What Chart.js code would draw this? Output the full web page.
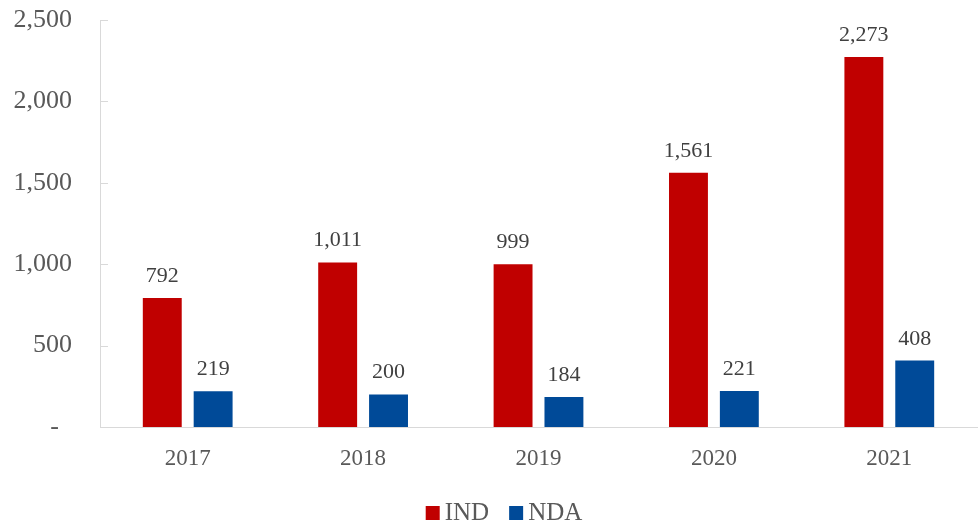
<!DOCTYPE html>
<html>
<head>
<meta charset="utf-8">
<script src="https://cdn.jsdelivr.net/npm/chart.js@4/dist/chart.umd.min.js"></script>
<style>
  html, body { margin: 0; padding: 0; background: #ffffff; }
  #wrap { width: 979px; height: 527px; }
</style>
</head>
<body>
<div id="wrap"><canvas id="c" width="979" height="527"></canvas></div>
<script>
const categories = ['2017', '2018', '2019', '2020', '2021'];
const indValues = [792, 1011, 999, 1561, 2273];
const ndaValues = [219, 200, 184, 221, 408];
const seriesNames = ['IND', 'NDA'];
const yTicks = [0, 500, 1000, 1500, 2000, 2500];

const FONT = "'Liberation Serif', 'Times New Roman', serif";
const AXIS_COLOR = '#D9D9D9';
Chart.defaults.font.family = FONT;

const fmt = v => v === 0 ? '-  ' : v.toLocaleString('en-US');

const innerTicks = {
  id: 'innerTicks',
  afterDraw(chart) {
    const y = chart.scales.y;
    const ctx = chart.ctx;
    const left = chart.chartArea.left;
    ctx.save();
    ctx.strokeStyle = AXIS_COLOR;
    ctx.lineWidth = 1;
    y.ticks.forEach((t, i) => {
      const py = Math.round(y.getPixelForTick(i)) + 0.5;
      ctx.beginPath();
      ctx.moveTo(left, py);
      ctx.lineTo(left + 8, py);
      ctx.stroke();
    });
    ctx.restore();
  }
};

const dataLabels = {
  id: 'dataLabels',
  afterDatasetsDraw(chart) {
    const ctx = chart.ctx;
    ctx.save();
    ctx.font = '22px ' + FONT;
    ctx.fillStyle = '#404040';
    ctx.textAlign = 'center';
    ctx.textBaseline = 'alphabetic';
    chart.data.datasets.forEach((ds, di) => {
      const meta = chart.getDatasetMeta(di);
      meta.data.forEach((bar, i) => {
        ctx.fillText(fmt(ds.data[i]), bar.x, bar.y - 16);
      });
    });
    ctx.restore();
  }
};

const customLegend = {
  id: 'customLegend',
  afterDraw(chart) {
    const ctx = chart.ctx;
    ctx.save();
    ctx.font = '25px ' + FONT;
    ctx.textBaseline = 'alphabetic';
    ctx.textAlign = 'left';
    const box = 14, gapText = 5, gapItem = 20;
    const items = chart.data.datasets.map(ds => ({ label: ds.label, color: ds.backgroundColor, w: ctx.measureText(ds.label).width }));
    let total = 0;
    items.forEach((it, i) => { total += box + gapText + it.w + (i < items.length - 1 ? gapItem : 0); });
    let x = 504 - total / 2;
    const baseline = 520;
    items.forEach(it => {
      ctx.fillStyle = it.color;
      ctx.fillRect(x, baseline - box, box, box);
      x += box + gapText;
      ctx.fillStyle = '#595959';
      ctx.fillText(it.label, x, baseline);
      x += it.w + gapItem;
    });
    ctx.restore();
  }
};

const chart = new Chart(document.getElementById('c'), {
  type: 'bar',
  data: {
    labels: categories,
    datasets: [
      { label: seriesNames[0], data: indValues, backgroundColor: '#C00000', borderWidth: 0 },
      { label: seriesNames[1], data: ndaValues, backgroundColor: '#004A98', borderWidth: 0 }
    ]
  },
  options: {
    responsive: false,
    animation: false,
    devicePixelRatio: 1,
    layout: { padding: { top: 20, right: 2, left: 0, bottom: 50 } },
    datasets: { bar: { categoryPercentage: 0.58, barPercentage: 0.765 } },
    scales: {
      x: {
        grid: { display: false, drawTicks: false },
        border: { display: true, color: AXIS_COLOR, width: 1 },
        ticks: { color: '#595959', font: { family: FONT, size: 23 }, padding: 18 },
        afterFit(scale) { scale.height = 50; scale.paddingLeft = 0; scale.paddingRight = 0; }
      },
      y: {
        min: 0, max: 2500,
        afterBuildTicks(scale) { scale.ticks = yTicks.map(v => ({ value: v })); },
        grid: { display: false, drawTicks: false },
        border: { display: true, color: AXIS_COLOR, width: 1 },
        ticks: { color: '#595959', font: { family: FONT, size: 26 }, padding: 28, callback: v => fmt(v) },
        afterFit(scale) { scale.width = 100; scale.paddingTop = 0; scale.paddingBottom = 0; }
      }
    },
    plugins: {
      legend: { display: false },
      tooltip: { enabled: false }
    }
  },
  plugins: [innerTicks, dataLabels, customLegend]
});
</script>
</body>
</html>
